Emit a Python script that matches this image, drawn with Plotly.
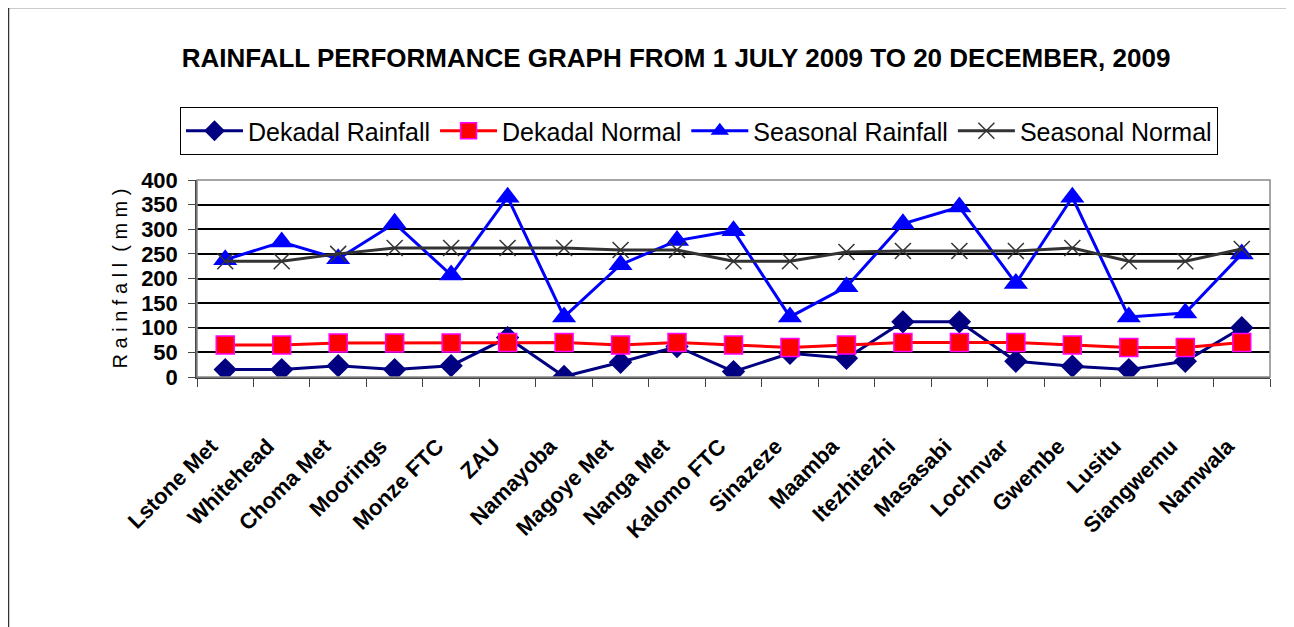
import plotly.graph_objects as go

stations = ["Lstone Met", "Whitehead", "Choma Met", "Moorings", "Monze FTC", "ZAU",
            "Namayoba", "Magoye Met", "Nanga Met", "Kalomo FTC", "Sinazeze", "Maamba",
            "Itezhitezhi", "Masasabi", "Lochnvar", "Gwembe", "Lusitu", "Siangwemu", "Namwala"]
dekadal_rainfall = [15, 15, 23, 15, 23, 80, 1, 30, 62, 11, 48, 38, 112, 112, 32, 22, 15, 32, 100]
dekadal_normal = [65, 65, 69, 69, 69, 70, 70, 65, 70, 65, 60, 65, 70, 70, 70, 65, 60, 60, 70]
seasonal_rainfall = [238, 274, 240, 312, 207, 365, 122, 228, 277, 297, 122, 183, 311, 345, 190, 365, 122, 130, 250]
seasonal_normal = [235, 235, 250, 262, 262, 262, 262, 258, 258, 235, 235, 254, 256, 256, 256, 262, 235, 235, 260]
y_ticks = [0, 50, 100, 150, 200, 250, 300, 350, 400]

FONT = "Liberation Sans, Arial, sans-serif"

fig = go.Figure()
fig.add_trace(go.Scatter(
    x=stations, y=dekadal_rainfall, name="Dekadal Rainfall", mode="lines+markers",
    line=dict(color="#000080", width=3),
    marker=dict(symbol="diamond", size=18, color="#000080")))
fig.add_trace(go.Scatter(
    x=stations, y=dekadal_normal, name="Dekadal Normal", mode="lines+markers",
    line=dict(color="#FF0000", width=3),
    marker=dict(symbol="square", size=18, color="#FF0000", line=dict(color="#FF00FF", width=1.5))))
fig.add_trace(go.Scatter(
    x=stations, y=seasonal_rainfall, name="Seasonal Rainfall", mode="lines+markers",
    line=dict(color="#0000FF", width=3),
    marker=dict(symbol="triangle-up", size=21, color="#0000FF")))
fig.add_trace(go.Scatter(
    x=stations, y=seasonal_normal, name="Seasonal Normal", mode="lines+markers",
    line=dict(color="#333333", width=3),
    marker=dict(symbol="x-thin", size=16, color="#333333", line=dict(color="#333333", width=1.5))))

# page is offset by the 8px body margin; work in figure pixels
OFF = 8
W, H = 1294 - OFF, 627 - OFF
L, R, T, B = 197 - OFF, 24, 180 - OFF, 250
pw, ph = W - L - R, H - T - B

def px2paper_x(page_px):
    return (page_px - OFF - L) / pw

def px2paper_y(page_py):
    return (H - B - (page_py - OFF)) / ph

fig.update_layout(
    width=W, height=H,
    margin=dict(l=L, r=R, t=T, b=B, autoexpand=False),
    paper_bgcolor="white", plot_bgcolor="white",
    font=dict(family=FONT, color="black"),
    title=dict(text="<b>RAINFALL PERFORMANCE GRAPH FROM 1 JULY 2009 TO 20 DECEMBER, 2009</b>",
               x=(676 - OFF) / W, xanchor="center", y=1 - (58 - OFF) / H, yanchor="middle",
               font=dict(size=26, family=FONT, color="black")),
    legend=dict(orientation="h", x=px2paper_x(180), xanchor="left",
                y=px2paper_y(107), yanchor="top",
                bordercolor="black", borderwidth=1, bgcolor="white",
                font=dict(size=25, family=FONT, color="black"),
                itemwidth=57),
    showlegend=True,
    shapes=[
        dict(type="rect", xref="paper", yref="paper",
             x0=px2paper_x(8.5), x1=px2paper_x(1293), y0=px2paper_y(660), y1=px2paper_y(7.5),
             line=dict(color="#333333", width=1.5), fillcolor="rgba(0,0,0,0)", layer="below"),
        dict(type="rect", xref="paper", yref="paper", x0=0, x1=1, y0=0, y1=1,
             line=dict(color="#888888", width=1.5), fillcolor="rgba(0,0,0,0)", layer="above"),
    ],
)

fig.update_xaxes(
    type="category", range=[-0.5, len(stations) - 0.5], tickangle=-45, tickson="boundaries",
    ticks="outside", ticklen=8, tickcolor="#444444",
    showline=True, linecolor="#444444", linewidth=1.5,
    showgrid=False, ticklabelstandoff=46, ticklabelshift=-14,
    tickfont=dict(size=22, family=FONT, color="black"),
    tickprefix="<b>", ticksuffix="</b>", fixedrange=True,
)
fig.update_yaxes(
    range=[0, 400], tickvals=y_ticks, ticktext=[f"<b>{v}</b>" for v in y_ticks],
    ticks="outside", ticklen=7, tickcolor="#444444",
    showline=True, linecolor="#444444", linewidth=1.5,
    showgrid=True, gridcolor="black", gridwidth=1.5, zeroline=False,
    ticklabelstandoff=6,
    tickfont=dict(size=22, family=FONT, color="black"),
    title=dict(text="R a i n f a l l  ( m m )", standoff=8,
               font=dict(size=20, family=FONT, color="black")),
)

fig.write_html("out.html")
